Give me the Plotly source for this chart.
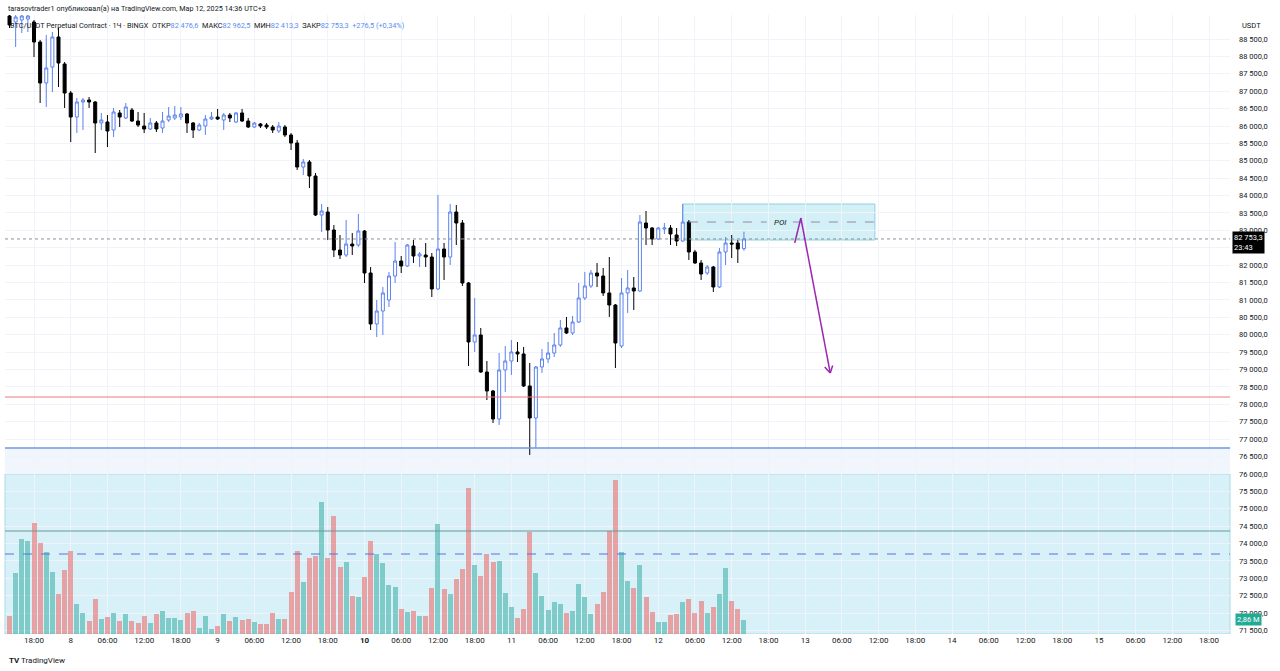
import plotly.graph_objects as go

# ---------------- data (hourly candles, 7 Mar 14:00 -> 12 Mar 14:00, 2025) ----------------
opens = [89161, 88989, 89046, 89075, 88989, 88414, 87236, 87695, 88558, 87782,
         86948, 86258, 86690, 86747, 86690, 86086, 86115, 85885, 86374, 86230,
         86460, 86143, 86000, 85913, 86086, 85942, 86172, 86230, 86258, 86345,
         86086, 85885, 86000, 86201, 86258, 86172, 86316, 86115, 86374, 86143,
         85971, 86057, 86028, 85971, 85856, 85971, 85741, 85511, 84821, 84965,
         84563, 83442, 83528, 83011, 82436, 82292, 82608, 82580, 82982, 81775,
         80310, 80683, 80999, 81689, 82120, 81977, 82551, 82264, 82292, 82235,
         81316, 82465, 82235, 83528, 83212, 81488, 79792, 79993, 78930, 78384,
         77579, 78988, 79246, 79505, 79448, 78528, 77608, 79074, 79304, 79476,
         79706, 80195, 80051, 80367, 81057, 81402, 81775, 81689, 81201, 80855,
         79677, 81201, 81345, 81258, 83212, 83068, 82752, 83040, 83068, 82867,
         82694, 83240, 82379, 82063, 81775, 81948, 81373, 82379, 82637, 82637,
         82476.6]
highs = [89247, 89190, 89190, 89190, 89046, 88471, 88615, 88701, 88816, 87839,
         87006, 86804, 86804, 86833, 86718, 86374, 86316, 86518, 86460, 86661,
         86518, 86402, 86374, 86230, 86143, 86402, 86546, 86575, 86546, 86374,
         86115, 86086, 86316, 86402, 86489, 86374, 86374, 86402, 86489, 86230,
         86115, 86086, 86086, 86028, 86115, 86028, 85799, 85598, 85051, 85023,
         84649, 83758, 83672, 83154, 82867, 83298, 82925, 83471, 83011, 81948,
         80999, 81373, 81804, 82666, 82264, 82608, 82723, 82379, 82637, 82350,
         84017, 82637, 83758, 83729, 83298, 81517, 81057, 80195, 79246, 78413,
         79476, 79677, 79849, 79792, 79649, 79189, 79103, 79591, 79792, 80051,
         80425, 80511, 80540, 81488, 81804, 81861, 82063, 81919, 82235, 80884,
         81631, 81861, 81660, 83442, 83557, 83097, 83097, 83212, 83154, 83068,
         83758, 83298, 82436, 82149, 82005, 81977, 82494, 82810, 82867, 82723,
         82962.5]
lows = [88816, 88270, 88673, 88701, 87983, 86661, 86546, 86977, 87121, 86518,
        85540, 85799, 85885, 86518, 85224, 85885, 85396, 85684, 85971, 86201,
        86115, 85971, 85799, 85885, 85827, 85799, 86115, 86172, 86172, 85799,
        85655, 85856, 85741, 86172, 86172, 85885, 86115, 86086, 86115, 85942,
        85942, 85942, 85913, 85799, 85799, 85684, 85310, 84735, 84592, 84218,
        83413, 82953, 82723, 82235, 82178, 82235, 82292, 82522, 81488, 80137,
        79936, 79993, 80798, 81488, 81775, 81948, 82063, 81948, 81948, 81085,
        81287, 81574, 82005, 82580, 81402, 79103, 79505, 78902, 78125, 77464,
        77407, 78355, 78844, 79218, 78499, 76545, 76746, 78902, 79189, 79361,
        79649, 80022, 79993, 80338, 80999, 81345, 81373, 81114, 80511, 79045,
        79620, 80626, 80712, 81230, 82580, 82580, 82723, 82896, 82580, 82551,
        82666, 82149, 82034, 81574, 81718, 81230, 81345, 82005, 82206, 82063,
        82413.3]
closes = [88903, 89132, 89161, 89161, 88414, 87236, 87667, 88558, 87810, 86948,
          86258, 86690, 86747, 86690, 86086, 86172, 85856, 86402, 86258, 86546,
          86143, 86028, 85913, 86086, 85913, 86143, 86287, 86316, 86345, 86086,
          85885, 86028, 86201, 86258, 86201, 86316, 86230, 86374, 86143, 85971,
          86086, 86000, 85971, 85885, 86000, 85741, 85511, 84821, 84965, 84563,
          83442, 83557, 83011, 82436, 82292, 82608, 82551, 82982, 81775, 80310,
          80683, 81201, 81689, 82120, 81977, 82580, 82264, 82321, 82235, 81316,
          82465, 82235, 83528, 83212, 81488, 79792, 79993, 78930, 78384, 77579,
          78988, 79246, 79505, 79448, 78528, 77608, 79074, 79304, 79476, 79706,
          80195, 80051, 80367, 81057, 81402, 81775, 81689, 81201, 80855, 79763,
          81201, 81345, 81258, 83240, 83068, 82752, 83068, 83068, 82896, 82694,
          83240, 82379, 82063, 81746, 81948, 81373, 82379, 82637, 82608, 82465,
          82753.3]
volumes_m = [3.67, 12.45, 19.39, 18.98, 22.65, 18.57, 16.73, 12.65, 8.16, 13.06,
             16.94, 6.12, 4.29, 2.65, 7.14, 3.06, 3.47, 4.29, 2.65, 4.08,
             2.65, 2.24, 3.67, 2.24, 4.08, 4.69, 3.27, 3.27, 2.86, 4.29,
             4.69, 1.22, 3.67, 1.02, 1.63, 4.08, 2.65, 3.47, 2.86, 3.06,
             2.45, 2.04, 2.04, 4.29, 3.06, 3.06, 8.57, 16.94, 10.61, 15.51,
             15.92, 26.94, 15.51, 24.08, 13.67, 14.69, 7.76, 7.55, 11.63, 18.98,
             16.33, 14.49, 10.0, 9.59, 5.10, 4.49, 4.69, 3.67, 3.67, 9.39,
             22.45, 9.18, 8.16, 11.22, 13.27, 29.8, 14.08, 11.84, 16.33, 14.69,
             14.9, 8.37, 5.51, 3.27, 5.10, 20.82, 12.45, 7.76, 4.90, 6.53,
             6.12, 4.29, 4.69, 10.2, 7.55, 4.08, 6.12, 8.57, 21.02, 31.43,
             16.73, 10.82, 9.39, 14.08, 7.55, 4.49, 2.45, 2.45, 3.88, 4.08,
             6.53, 7.14, 4.29, 6.73, 4.29, 5.51, 8.16, 13.47, 6.73, 5.10,
             2.86]

# x-axis: candle index (hour 0 = 7 Mar 14:00); labels every 6 hours
x_tick_pos = list(range(4, 197, 6))
x_tick_text = ["18:00", "8", "06:00", "12:00", "18:00", "9", "06:00", "12:00", "18:00",
               "<b>10</b>", "06:00", "12:00", "18:00", "11", "06:00", "12:00", "18:00",
               "12", "06:00", "12:00", "18:00", "13", "06:00", "12:00", "18:00",
               "14", "06:00", "12:00", "18:00", "15", "06:00", "12:00", "18:00"]
price_ticks = [71500 + 500 * k for k in range(35)]
hidden_price_ticks = [82500]  # covered by the last-price label in the reference

# drawings (price levels / zones)
level_red = 78211
level_blue = 76746
zone_top = 76000
vol_line_solid = 74360
vol_line_dash = 73699
last_price = 82753.3
poi_x = [110, 141.4]
poi_y = [82723, 83758]
poi_mid = 83240
poi_text_x = 125.9
poi_gap = [123.7, 128.0]
arrow_x = [128.3, 129.3, 134.1]
arrow_y = [82637, 83356, 78902]
arrow_head_x = [133.2, 134.1, 134.5]
arrow_head_y = [79076, 78902, 79116]

X_RANGE = [-0.74, 199.42]
Y_RANGE = [71400, 89190]
V_RANGE = [0, 126.3]


def fmt_price(v):
    return f"{v:,.1f}".replace(",", " ").replace(".", ",")


TXT = "#131722"
UP = "#5b82ee"
BLUE_TXT = "#5b8def"

xs = list(range(len(closes)))
vol_colors = ["rgba(38,166,154,0.5)" if c >= o else "rgba(239,83,80,0.5)"
              for o, c in zip(opens, closes)]

fig = go.Figure()
fig.add_trace(go.Candlestick(
    x=xs, open=opens, high=highs, low=lows, close=closes,
    increasing=dict(line=dict(color=UP, width=1), fillcolor="#ffffff"),
    decreasing=dict(line=dict(color="#000000", width=1), fillcolor="#000000"),
    whiskerwidth=0, hoverinfo="skip", showlegend=False))
fig.add_trace(go.Bar(x=xs, y=volumes_m, yaxis="y2", marker_color=vol_colors,
                     marker_line_width=0, width=0.82, hoverinfo="skip", showlegend=False))

shapes = []
# zones
shapes.append(dict(type="rect", xref="paper", yref="y", x0=0, x1=1, y0=zone_top, y1=level_blue,
                   fillcolor="#f0f6fc", line=dict(width=0), layer="below"))
shapes.append(dict(type="rect", xref="paper", yref="y", x0=0, x1=1, y0=Y_RANGE[0], y1=zone_top,
                   fillcolor="rgba(190,232,243,0.6)", line=dict(color="#a9dbe7", width=1), layer="below"))
# levels
for lv, col, dash, w in [(level_red, "#ea7b7b", "solid", 1),
                         (level_blue, "#7196e6", "solid", 1.5),
                         (vol_line_solid, "#6a9893", "solid", 1.2),
                         (vol_line_dash, "#5d6fe0", "dash", 1.2),
                         (last_price, "#8c8f99", "dot", 1)]:
    shapes.append(dict(type="line", xref="paper", yref="y", x0=0, x1=1, y0=lv, y1=lv,
                       line=dict(color=col, width=w, dash=dash)))
# POI zone
shapes.append(dict(type="rect", xref="x", yref="y", x0=poi_x[0], x1=poi_x[1], y0=poi_y[0], y1=poi_y[1],
                   fillcolor="rgba(160,222,238,0.45)", line=dict(color="#8fd0e2", width=1), layer="below"))
for a, b in [(poi_x[0] + 1, poi_gap[0]), (poi_gap[1], poi_x[1])]:
    shapes.append(dict(type="line", xref="x", yref="y", x0=a, x1=b, y0=poi_mid, y1=poi_mid,
                       line=dict(color="#8f87ad", width=1, dash="dash")))
# arrow
for xa, ya in [(arrow_x, arrow_y), (arrow_head_x, arrow_head_y)]:
    for k in range(len(xa) - 1):
        shapes.append(dict(type="line", xref="x", yref="y", x0=xa[k], x1=xa[k + 1], y0=ya[k], y1=ya[k + 1],
                           line=dict(color="#9c27b0", width=1.5)))

ann = []
ann.append(dict(xref="paper", yref="paper", x=0, y=1, xanchor="left", yanchor="middle", xshift=1, yshift=7,
                showarrow=False, font=dict(size=7.2, color=TXT),
                text="tarasovtrader1 опубликовал(а) на TradingView.com, Мар 12, 2025 14:36 UTC+3"))


def blue(s):
    return f"<span style='color:{BLUE_TXT}'>{s}</span>"


line2 = ("BTC/USDT Perpetual Contract · 1Ч · BINGX &nbsp;ОТКР" + blue(fmt_price(opens[-1])) +
         " &nbsp;МАКС" + blue(fmt_price(highs[-1])) +
         " &nbsp;МИН" + blue(fmt_price(lows[-1])) +
         " &nbsp;ЗАКР" + blue(fmt_price(closes[-1])) +
         " &nbsp;" + blue("+276,5 (+0,34%)"))
ann.append(dict(xref="paper", yref="paper", x=0, y=1, xanchor="left", yanchor="middle", xshift=3, yshift=-10,
                showarrow=False, font=dict(size=7.3, color=TXT), text=line2))
ann.append(dict(xref="paper", yref="paper", x=1, y=1, xanchor="left", yanchor="middle", xshift=10, yshift=-10,
                showarrow=False, font=dict(size=7.5, color=TXT), text="USDT"))
ann.append(dict(xref="paper", yref="y", x=1, y=last_price, xanchor="left", yanchor="middle", xshift=2, yshift=-4,
                showarrow=False, font=dict(size=7.5, color="#ffffff"), bgcolor="#000000", align="left",
                borderpad=1, text=fmt_price(last_price) + "<br>23:43"))
ann.append(dict(xref="paper", yref="y2", x=1, y=volumes_m[-1], xanchor="left", yanchor="middle", xshift=5,
                showarrow=False, font=dict(size=7.5, color="#ffffff"), bgcolor="#22ab94",
                borderpad=1, text=f"{volumes_m[-1]:.2f}".replace(".", ",") + " M"))
ann.append(dict(xref="x", yref="y", x=poi_text_x, y=poi_mid, showarrow=False,
                font=dict(size=8, color=TXT), text="<i>POI</i>"))
ann.append(dict(xref="paper", yref="paper", x=0, y=0, xanchor="left", yanchor="middle", xshift=2, yshift=-26,
                showarrow=False, font=dict(size=8, color=TXT), text="<b>TV</b> TradingView"))

fig.update_layout(
    width=1280, height=671,
    margin=dict(l=5, r=50, t=15, b=37),
    paper_bgcolor="#ffffff", plot_bgcolor="#ffffff",
    font=dict(family="Roboto, Arial, sans-serif", size=8, color=TXT),
    showlegend=False, bargap=0,
    shapes=shapes, annotations=ann,
    xaxis=dict(range=X_RANGE, tickvals=x_tick_pos, ticktext=x_tick_text, showgrid=True,
               gridcolor="#f0f3fa", gridwidth=1, zeroline=False, showline=False, ticks="",
               tickfont=dict(size=8, color=TXT), rangeslider=dict(visible=False), fixedrange=True),
    yaxis=dict(range=Y_RANGE, side="right", tickvals=price_ticks,
               ticktext=["" if v in hidden_price_ticks else fmt_price(v) for v in price_ticks],
               showgrid=True, gridcolor="#f0f3fa",
               zeroline=False, showline=False, ticks="", ticklabelstandoff=8,
               tickfont=dict(size=7.5, color=TXT), fixedrange=True),
    yaxis2=dict(range=V_RANGE, overlaying="y", visible=False, fixedrange=True),
)

fig.write_html("out.html", config={"displayModeBar": False},
               post_script="document.body.style.margin='0';document.body.style.overflow='hidden';")
